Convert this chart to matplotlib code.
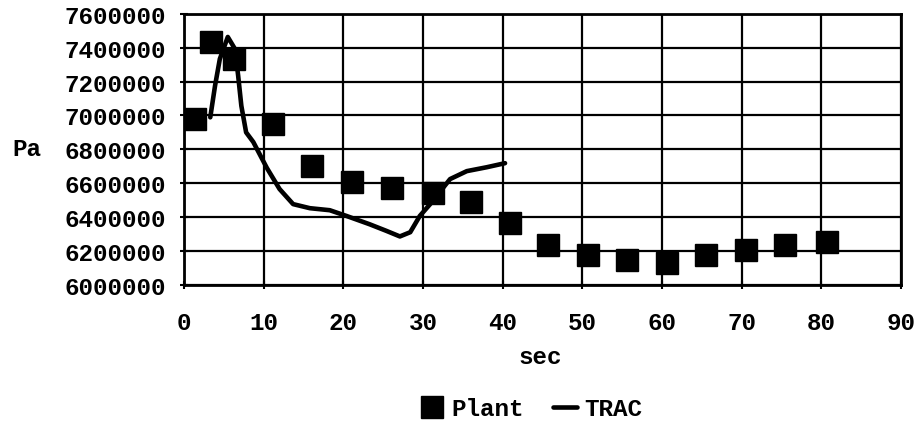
import matplotlib.pyplot as plt
from matplotlib.ticker import MultipleLocator

# Plant measurements
plant_sec = [1.4, 3.4, 6.3, 11.2, 16.1, 21.1, 26.1, 31.2, 36.0, 40.9,
             45.7, 50.7, 55.6, 60.6, 65.5, 70.6, 75.5, 80.7]
plant_pa = [6978000, 7434000, 7333000, 6948000, 6699000, 6604000, 6569000,
            6539000, 6487000, 6367000, 6237000, 6178000, 6148000, 6130000,
            6178000, 6207000, 6237000, 6255000]

# TRAC calculation
trac_sec = [3.3, 3.9, 4.5, 5.5, 6.4, 6.8, 7.2, 7.8, 8.7, 10.4, 12.0, 13.7,
            15.8, 18.3, 20.4, 23.3, 25.4, 27.1, 28.4, 29.6, 30.9, 33.4,
            35.5, 38.0, 40.3]
trac_pa = [6989000, 7176000, 7334000, 7464000, 7393000, 7235000, 7057000,
           6900000, 6843000, 6690000, 6565000, 6476000, 6452000, 6440000,
           6406000, 6357000, 6318000, 6285000, 6310000, 6406000, 6476000,
           6624000, 6671000, 6694000, 6718000]

font = "Liberation Mono"
fs = 17.5
plt.rcParams["font.family"] = [font, "DejaVu Sans"]
plt.rcParams["font.weight"] = "bold"

fig = plt.figure(figsize=(9.19, 4.27), dpi=100)
ax = fig.add_axes([0.2002, 0.331, 0.7802, 0.634])

ax.plot(plant_sec, plant_pa, linestyle="none", marker="s", markersize=16,
        color="black", label="Plant", zorder=3)
ax.plot(trac_sec, trac_pa, color="black", linewidth=3.3, solid_joinstyle="round",
        solid_capstyle="round", label="TRAC", zorder=4)

ax.set_xlim(0, 90)
ax.set_ylim(6000000, 7600000)
ax.xaxis.set_major_locator(MultipleLocator(10))
ax.yaxis.set_major_locator(MultipleLocator(200000))
ax.ticklabel_format(axis="y", style="plain", useOffset=False)
ax.grid(True, color="black", linewidth=1.6)
ax.set_axisbelow(True)
for s in ax.spines.values():
    s.set_linewidth(2)
ax.tick_params(direction="inout", length=6, width=1.5, labelsize=fs)
ax.tick_params(axis="y", pad=10)
ax.tick_params(axis="x", pad=16)
for lab in ax.get_xticklabels() + ax.get_yticklabels():
    lab.set_fontweight("bold")

fig.text(0.013, 0.649, "Pa", fontsize=fs, fontweight="bold", va="center")
fig.text(0.588, 0.162, "sec", fontsize=fs, fontweight="bold", ha="center", va="center")

fig.legend(loc="center", bbox_to_anchor=(0.578, 0.04), ncol=2, frameon=False,
           handlelength=1.0, handletextpad=0.3, columnspacing=1.2,
           prop={"family": font, "weight": "bold", "size": fs})

fig.savefig("out.png", dpi=100)
